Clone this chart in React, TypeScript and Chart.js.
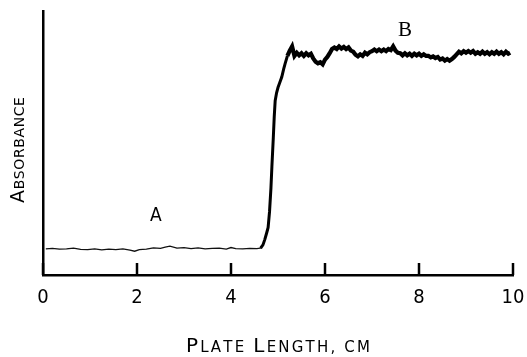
import React, { useEffect, useRef } from "react";
import { Chart, registerables } from "chart.js";

Chart.register(...registerables);

// ---- data ----
const xTickValues = [0, 2, 4, 6, 8, 10];
const xTitle = "Plate Length, cm";
const yTitle = "Absorbance";

const baselineX = [0.06, 0.2, 0.35, 0.5, 0.65, 0.8, 0.95, 1.1, 1.25, 1.4, 1.55, 1.7, 1.85, 1.95, 2.05, 2.2, 2.35, 2.5, 2.6, 2.7, 2.85, 3.0, 3.15, 3.3, 3.45, 3.6, 3.75, 3.9, 4.0, 4.1, 4.25, 4.4, 4.55, 4.66];
const baselineY = [9.9, 10.1, 9.8, 9.9, 10.2, 9.7, 9.6, 9.9, 9.5, 9.8, 9.6, 9.9, 9.4, 9.0, 9.6, 9.8, 10.3, 10.1, 10.6, 10.9, 10.2, 10.4, 10.0, 10.3, 9.9, 10.1, 10.2, 9.8, 10.4, 10.0, 9.9, 10.1, 10.0, 10.3];

const riseX = [4.63, 4.68, 4.72, 4.76, 4.79, 4.82, 4.85, 4.87, 4.9, 4.92, 4.94, 4.97, 5.0, 5.04, 5.08, 5.12, 5.15, 5.2];
const riseY = [10.2, 11.4, 13.5, 16, 18, 24, 33, 41, 52, 60, 66, 69, 71, 73, 75, 78, 80, 83];

const plateauX = [5.25, 5.3, 5.35, 5.4, 5.45, 5.5, 5.55, 5.6, 5.65, 5.7, 5.75, 5.8, 5.85, 5.9, 5.95, 6.0, 6.05, 6.1, 6.15, 6.2, 6.25, 6.3, 6.35, 6.4, 6.45, 6.5, 6.55, 6.6, 6.65, 6.7, 6.75, 6.8, 6.85, 6.9, 6.95, 7.0, 7.05, 7.1, 7.15, 7.2, 7.25, 7.3, 7.35, 7.4, 7.45, 7.5, 7.55, 7.6, 7.65, 7.7, 7.75, 7.8, 7.85, 7.9, 7.95, 8.0, 8.05, 8.1, 8.15, 8.2, 8.25, 8.3, 8.35, 8.4, 8.45, 8.5, 8.55, 8.6, 8.65, 8.7, 8.75, 8.8, 8.85, 8.9, 8.95, 9.0, 9.05, 9.1, 9.15, 9.2, 9.25, 9.3, 9.35, 9.4, 9.45, 9.5, 9.55, 9.6, 9.65, 9.7, 9.75, 9.8, 9.85, 9.9, 9.94];
const plateauY = [85.0, 86.6, 83.0, 84.2, 83.2, 84.0, 83.0, 84.0, 83.2, 83.8, 82.0, 80.8, 80.2, 80.6, 79.8, 81.6, 82.6, 84.0, 85.6, 86.2, 85.6, 86.6, 85.8, 86.4, 85.6, 86.2, 85.0, 84.6, 83.4, 82.8, 83.6, 83.0, 84.2, 83.6, 84.4, 84.8, 85.4, 84.8, 85.4, 84.8, 85.4, 84.8, 85.6, 85.2, 86.6, 85.0, 84.2, 84.0, 83.2, 84.0, 83.2, 83.8, 83.0, 83.8, 83.2, 83.8, 83.0, 83.6, 83.0, 83.0, 82.4, 82.8, 82.2, 82.6, 81.6, 82.0, 81.2, 81.8, 81.2, 81.8, 82.6, 83.6, 84.6, 84.0, 84.8, 84.2, 84.8, 84.2, 84.8, 83.8, 84.4, 83.8, 84.6, 83.8, 84.4, 83.6, 84.4, 83.8, 84.6, 83.8, 84.4, 83.6, 84.6, 83.8, 84.2];

const labelA = { text: "A", x: 2.4, y: 22.3 };
const labelB = { text: "B", x: 7.7, y: 92.8 };

const zip = (xs: number[], ys: number[]) => xs.map((x, i) => ({ x, y: ys[i] }));

const TITLE_FAMILY = "'DejaVu Sans', sans-serif";

// draws text in small capitals, centred on (cx, cy)
function drawSmallCaps(
  ctx: CanvasRenderingContext2D,
  text: string,
  cx: number,
  cy: number,
  big: number,
  small: number,
  spacing: number
) {
  const chars = Array.from(text).map((ch) => {
    const isCap = ch !== ch.toLowerCase();
    const size = isCap ? big : small;
    ctx.font = `${size}px ${TITLE_FAMILY}`;
    const c = ch.toUpperCase();
    return { c, size, w: ctx.measureText(c).width };
  });
  const total = chars.reduce((s, o) => s + o.w, 0) + spacing * (chars.length - 1);
  let x = cx - total / 2;
  const baseline = cy + (big * 0.729) / 2;
  ctx.textAlign = "left";
  ctx.textBaseline = "alphabetic";
  for (const o of chars) {
    ctx.font = `${o.size}px ${TITLE_FAMILY}`;
    ctx.fillText(o.c, x, baseline);
    x += o.w + spacing;
  }
}

const textPlugin = {
  id: "annotTexts",
  afterDraw(chart: any) {
    const ctx = chart.ctx as CanvasRenderingContext2D;
    const xs = chart.scales.x;
    const ys = chart.scales.y;
    const area = chart.chartArea;
    ctx.save();

    // inward tick marks on the x axis
    ctx.strokeStyle = "#000";
    ctx.lineWidth = 2.5;
    ctx.lineCap = "butt";
    for (const v of xTickValues) {
      const px = xs.getPixelForValue(v);
      ctx.beginPath();
      ctx.moveTo(px, area.bottom);
      ctx.lineTo(px, area.bottom - 12);
      ctx.stroke();
    }

    ctx.fillStyle = "#000";
    ctx.textAlign = "center";
    ctx.textBaseline = "middle";
    ctx.font = "19px 'DejaVu Sans Condensed', 'DejaVu Sans', sans-serif";
    ctx.fillText(labelA.text, xs.getPixelForValue(labelA.x), ys.getPixelForValue(labelA.y));
    ctx.font = "21px 'Liberation Serif', serif";
    ctx.fillText(labelB.text, xs.getPixelForValue(labelB.x), ys.getPixelForValue(labelB.y));

    drawSmallCaps(ctx, xTitle, (area.left + area.right) / 2, area.bottom + 70, 20, 15, 2.2);

    ctx.translate(17, (area.top + area.bottom) / 2 + 7);
    ctx.rotate(-Math.PI / 2);
    drawSmallCaps(ctx, yTitle, 0, 0, 19, 14, 0.6);
    ctx.restore();
  },
};

export default function App() {
  const ref = useRef<HTMLCanvasElement | null>(null);

  useEffect(() => {
    if (!ref.current) return;
    const chart = new Chart(ref.current, {
      type: "line",
      data: {
        datasets: [
          {
            data: zip(baselineX, baselineY),
            borderColor: "#111",
            borderWidth: 1.3,
            pointRadius: 0,
            tension: 0,
          },
          {
            data: zip(riseX.concat(plateauX), riseY.concat(plateauY)),
            borderColor: "#000",
            borderWidth: 3,
            pointRadius: 0,
            tension: 0,
            segment: {
              borderWidth: (c: any) => (c.p0.parsed.x >= 5.2 ? 4.2 : 3),
            },
          },
        ],
      },
      options: {
        responsive: false,
        animation: false,
        layout: { padding: { top: 11, right: 14, left: 0, bottom: 0 } },
        plugins: { legend: { display: false }, tooltip: { enabled: false } },
        scales: {
          x: {
            type: "linear",
            min: 0,
            max: 10,
            position: "bottom",
            afterFit: (s: any) => {
              s.height = 82;
              s.paddingLeft = 0;
              s.paddingRight = 0;
            },
            afterBuildTicks: (s: any) => {
              s.ticks = xTickValues.map((v) => ({ value: v }));
            },
            ticks: {
              color: "#000",
              padding: 11,
              font: { family: "'Liberation Sans Narrow', 'DejaVu Sans Condensed', sans-serif", size: 20 },
            },
            grid: {
              drawOnChartArea: false,
              drawTicks: false,
            },
            border: { display: true, width: 2.5, color: "#000" },
          },
          y: {
            type: "linear",
            min: 0,
            max: 100,
            afterFit: (s: any) => {
              s.width = 43;
            },
            ticks: { display: false },
            grid: { display: false, drawTicks: false },
            border: { display: true, width: 2.5, color: "#000" },
          },
        },
      },
      plugins: [textPlugin],
    });
    return () => chart.destroy();
  }, []);

  return (
    <div style={{ position: "absolute", left: 0, top: 0, width: 527, height: 357, background: "#fff" }}>
      <canvas ref={ref} width={527} height={357} style={{ display: "block" }} />
    </div>
  );
}
